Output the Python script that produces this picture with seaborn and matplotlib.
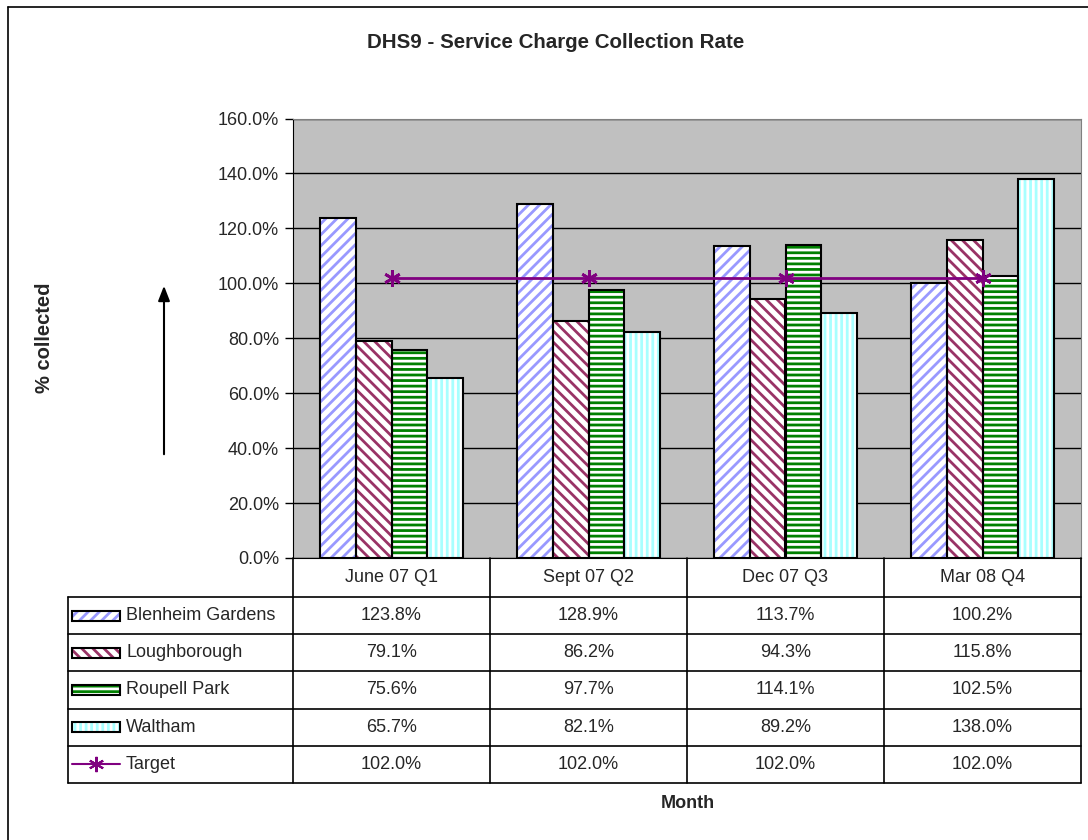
import numpy as np
import pandas as pd
import seaborn as sns
import matplotlib.pyplot as plt
from matplotlib.patches import Rectangle
from matplotlib.lines import Line2D

# data
months = ['June 07 Q1', 'Sept 07 Q2', 'Dec 07 Q3', 'Mar 08 Q4']
sites = ['Blenheim Gardens', 'Loughborough', 'Roupell Park', 'Waltham']
blenheim = [123.8, 128.9, 113.7, 100.2]
loughborough = [79.1, 86.2, 94.3, 115.8]
roupell = [75.6, 97.7, 114.1, 102.5]
waltham = [65.7, 82.1, 89.2, 138.0]
target = [102.0, 102.0, 102.0, 102.0]
yticks = [0, 20, 40, 60, 80, 100, 120, 140, 160]

df = pd.DataFrame({
    'month': months * 4,
    'site': [s for s in sites for _ in months],
    'value': blenheim + loughborough + roupell + waltham,
})

# hatch style per site: (face, hatch colour, hatch)
styles = [('white', '#9999FF', '///'),
          ('white', '#993366', '\\\\\\'),
          ('white', '#008000', '---'),
          ('white', '#A8FFFF', '|||')]

sns.set_style('white')
plt.rcParams['font.family'] = ['Liberation Sans', 'DejaVu Sans']
plt.rcParams['hatch.linewidth'] = 2.0

W, H = 1088, 840
fig = plt.figure(figsize=(W / 100, H / 100), dpi=100)


def fx(px):
    return px / W


def fy(py):
    return 1 - py / H


# main plot area
left, right, top, bottom = 293, 1081, 118.5, 558
ax = fig.add_axes([fx(left), fy(bottom), fx(right - left), (bottom - top) / H])
ax.set_facecolor('#C0C0C0')

sns.barplot(data=df, x='month', y='value', hue='site', order=months, hue_order=sites,
            width=0.73, gap=0, ax=ax, legend=False, saturation=1)

for cont, (face, hcol, hatch) in zip(ax.containers, styles):
    for bar in cont:
        bar.set_facecolor(face)
        bar.set_edgecolor(hcol)
        bar.set_hatch(hatch)
        bar.set_linewidth(0)
        ax.add_patch(Rectangle(bar.get_xy(), bar.get_width(), bar.get_height(),
                               fill=False, edgecolor='black', linewidth=1.5, zorder=3))

x = np.arange(len(months))
sns.lineplot(x=x, y=target, ax=ax, color='#800080', linewidth=2, marker=(6, 2, 0),
             markersize=12, markeredgewidth=2, markeredgecolor='#800080', zorder=4)

ax.set_xlim(-0.5, len(months) - 0.5)
ax.set_ylim(0, 160)
ax.set_yticks(yticks)
ax.set_yticklabels([f'{v:.1f}%' for v in yticks], fontsize=13)
ax.tick_params(axis='y', length=6, width=1, color='black', direction='out', left=True, pad=4)
ax.set_xticks([])
ax.set_xlabel('')
ax.set_ylabel('')
ax.grid(axis='y', color='black', linewidth=1)
ax.set_axisbelow(True)
for s in ('top', 'right'):
    ax.spines[s].set_color('#808080')
ax.spines['left'].set_color('black')
ax.spines['bottom'].set_color('black')

# data table below the plot
row_h = 37.2
head_top, head_bot = 558, 597
tab_left = 68
col_w = (right - left) / len(months)
rows_y = [head_bot + i * row_h for i in range(6)]
lw = 1.2

lines = []
# header row
lines.append(([left, left], [head_top, rows_y[-1]]))
for i in range(1, len(months) + 1):
    lines.append(([left + i * col_w] * 2, [head_top, rows_y[-1]]))
for yy in rows_y:
    lines.append(([tab_left, right], [yy, yy]))
lines.append(([tab_left, tab_left], [rows_y[0], rows_y[-1]]))
for xs, ys in lines:
    fig.add_artist(Line2D([fx(v) for v in xs], [fy(v) for v in ys], color='black', linewidth=lw))

for i, m in enumerate(months):
    fig.text(fx(left + (i + 0.5) * col_w), fy((head_top + head_bot) / 2), m,
             ha='center', va='center', fontsize=13)

series = [blenheim, loughborough, roupell, waltham, target]
names = sites + ['Target']
for r, (name, vals) in enumerate(zip(names, series)):
    yc = rows_y[r] + row_h / 2
    # legend key
    if r < 4:
        face, hcol, hatch = styles[r]
        fig.add_artist(Rectangle((fx(72), fy(yc + 5)), fx(48), 10 / H, facecolor=face,
                                 edgecolor=hcol, hatch=hatch, linewidth=0, transform=fig.transFigure))
        fig.add_artist(Rectangle((fx(72), fy(yc + 5)), fx(48), 10 / H, fill=False,
                                 edgecolor='black', linewidth=1.5, transform=fig.transFigure))
    else:
        fig.add_artist(Line2D([fx(72), fx(120)], [fy(yc), fy(yc)], color='#800080', linewidth=1.5))
        fig.add_artist(Line2D([fx(96)], [fy(yc)], color='#800080', marker=(6, 2, 0),
                              markersize=11, markeredgewidth=1.5))
    fig.text(fx(126), fy(yc), name, ha='left', va='center', fontsize=13)
    for i, v in enumerate(vals):
        fig.text(fx(left + (i + 0.5) * col_w), fy(yc), f'{v:.1f}%',
                 ha='center', va='center', fontsize=13)

# titles and axis labels
fig.text(fx(556), fy(43), 'DHS9 - Service Charge Collection Rate', ha='center', va='center',
         fontsize=14.8, fontweight='bold')
fig.text(fx(45), fy(338), '% collected', ha='center', va='center', rotation=90,
         fontsize=14.5, fontweight='bold')
fig.text(fx(688), fy(803), 'Month', ha='center', va='center', fontsize=13, fontweight='bold')
fig.add_artist(plt.Annotation('', xy=(fx(164), fy(283)), xytext=(fx(164), fy(457)),
                              xycoords='figure fraction', textcoords='figure fraction',
                              arrowprops=dict(arrowstyle='-|>,head_width=0.35,head_length=0.9',
                                              color='black', linewidth=1.5)))

# outer chart border
fig.add_artist(Line2D([fx(8), 1], [fy(7), fy(7)], color='black', linewidth=1.2))
fig.add_artist(Line2D([fx(8), fx(8)], [fy(7), 0], color='black', linewidth=1.2))

fig.savefig('out.png', dpi=100)
